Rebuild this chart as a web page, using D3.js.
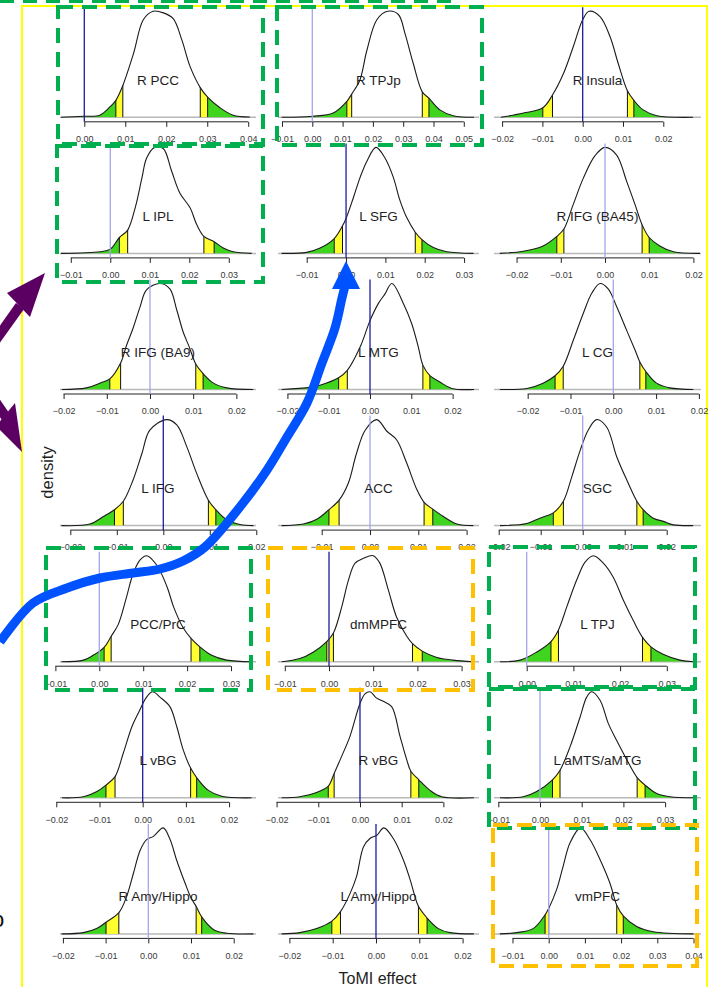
<!DOCTYPE html>
<html>
<head>
<meta charset="utf-8">
<script src="https://cdn.jsdelivr.net/npm/d3@7"></script>
<style>
  body { margin: 0; background: #fff; }
  svg { display: block; font-family: "Liberation Sans", Arial, sans-serif; }
</style>
</head>
<body>
<script>
// ---- data ----
var regions = ["R PCC", "R TPJp", "R Insula",
               "L IPL", "L SFG", "R IFG (BA45)",
               "R IFG (BA9)", "L MTG", "L CG",
               "L IFG", "ACC", "SGC",
               "PCC/PrC", "dmMPFC", "L TPJ",
               "L vBG", "R vBG", "L aMTS/aMTG",
               "R Amy/Hippo", "L Amy/Hippo", "vmPFC"];

// x limits of each panel (ToMI effect units)
var xLimits = [
    [-0.00593, 0.0419], [-0.01132, 0.05502], [-0.02201, 0.02936],
    [-0.01273, 0.03689], [-0.0173, 0.0338], [-0.02511, 0.02172],
    [-0.02083, 0.02454], [-0.02228, 0.02639], [-0.02787, 0.02049],
    [-0.02222, 0.01994], [-0.01905, 0.02257], [-0.02112, 0.02817],
    [-0.00895, 0.03569], [-0.01154, 0.03394], [-0.007, 0.03732],
    [-0.01914, 0.02623], [-0.01966, 0.02854], [-0.01103, 0.03861],
    [-0.02068, 0.02522], [-0.02263, 0.02379], [-0.01511, 0.04207]
];

var tickValues = [
    [0, 0.01, 0.02, 0.03, 0.04], [-0.01, 0, 0.01, 0.02, 0.03, 0.04, 0.05], [-0.02, -0.01, 0, 0.01, 0.02],
    [-0.01, 0, 0.01, 0.02, 0.03], [-0.01, 0, 0.01, 0.02, 0.03], [-0.02, -0.01, 0, 0.01, 0.02],
    [-0.02, -0.01, 0, 0.01, 0.02], [-0.02, -0.01, 0, 0.01, 0.02], [-0.02, -0.01, 0, 0.01, 0.02],
    [-0.02, -0.01, 0, 0.01, 0.02], [-0.01, 0, 0.01, 0.02], [-0.02, -0.01, 0, 0.01, 0.02],
    [-0.01, 0, 0.01, 0.02, 0.03], [-0.01, 0, 0.01, 0.02, 0.03], [0, 0.01, 0.02, 0.03],
    [-0.02, -0.01, 0, 0.01, 0.02], [-0.02, -0.01, 0, 0.01, 0.02], [-0.01, 0, 0.01, 0.02, 0.03],
    [-0.02, -0.01, 0, 0.01, 0.02], [-0.02, -0.01, 0, 0.01, 0.02], [-0.01, 0, 0.01, 0.02, 0.03, 0.04]
];

// 2.5%, 5%, 95%, 97.5% cut points
var quantiles = [
    [0.0077, 0.0094, 0.0283, 0.0301], [0.0114, 0.013, 0.0363, 0.0385], [-0.0099, -0.0075, 0.0111, 0.0127],
    [0.0023, 0.0044, 0.0237, 0.0263], [-0.003, -0.0009, 0.0176, 0.0193], [-0.0109, -0.0093, 0.0084, 0.01],
    [-0.0093, -0.0068, 0.0106, 0.0123], [-0.0076, -0.0055, 0.0128, 0.0145], [-0.0136, -0.0117, 0.0062, 0.0076],
    [-0.0105, -0.0086, 0.0097, 0.0113], [-0.0085, -0.0064, 0.0112, 0.013], [-0.007, -0.0046, 0.0129, 0.0144],
    [0.0011, 0.0027, 0.0209, 0.0229], [-0.0005, 0.001, 0.0189, 0.0211], [0.0052, 0.0068, 0.0248, 0.0266],
    [-0.0085, -0.0064, 0.0111, 0.0125], [-0.0076, -0.0062, 0.0122, 0.0141], [0.003, 0.0048, 0.0233, 0.0252],
    [-0.0099, -0.0069, 0.0112, 0.0125], [-0.0102, -0.0082, 0.0098, 0.0118], [-0.001, 0.0, 0.0188, 0.0206]
];

// zero reference drawn dark (1) or pale (0)
var zeroDark = [1, 0, 1,
                0, 1, 0,
                0, 1, 0,
                1, 0, 0,
                0, 1, 0,
                1, 1, 0,
                0, 1, 0];

// density curves: [effect, density relative to the panel's peak]
var densities = [
    [[-0.0057,0],[-0.0002,0.01],[0.0038,0.02],[0.0063,0.1],[0.0077,0.16],[0.0094,0.30],[0.012,0.6],[0.0144,0.92],[0.0168,1.0],[0.0193,0.985],[0.0217,0.93],[0.0238,0.73],[0.0258,0.48],[0.0283,0.28],[0.0301,0.19],[0.0331,0.09],[0.0363,0.02],[0.0404,0.003]],
    [[-0.0101,0],[0.0,0.01],[0.0069,0.04],[0.0114,0.15],[0.013,0.22],[0.0157,0.35],[0.018,0.63],[0.0213,0.92],[0.0248,1.0],[0.0284,0.97],[0.0306,0.79],[0.0333,0.51],[0.0363,0.24],[0.0385,0.18],[0.0421,0.07],[0.0465,0.015],[0.0534,0]],
    [[-0.0203,0],[-0.0147,0.04],[-0.0099,0.09],[-0.0075,0.21],[-0.0048,0.41],[-0.0023,0.67],[0.0,0.92],[0.0016,1.0],[0.0043,0.95],[0.0068,0.76],[0.0088,0.51],[0.0111,0.25],[0.0127,0.16],[0.015,0.07],[0.0184,0.015],[0.0274,0]],
    [[-0.0125,0],[-0.0026,0.015],[0.0,0.04],[0.0023,0.15],[0.0044,0.22],[0.0063,0.43],[0.008,0.71],[0.0092,0.90],[0.0112,1.0],[0.0134,0.99],[0.0155,0.78],[0.0176,0.57],[0.0202,0.43],[0.0219,0.27],[0.0237,0.16],[0.0263,0.11],[0.0286,0.05],[0.0311,0.015],[0.0358,0]],
    [[-0.0164,0],[-0.01,0.01],[-0.0066,0.05],[-0.003,0.14],[-0.0009,0.26],[0.0,0.33],[0.0019,0.53],[0.0036,0.72],[0.0053,0.87],[0.0076,1.0],[0.0099,0.90],[0.012,0.72],[0.0137,0.50],[0.0154,0.34],[0.0176,0.20],[0.0193,0.13],[0.0222,0.055],[0.0256,0.015],[0.0324,0]],
    [[-0.0238,0],[-0.0185,0.02],[-0.014,0.07],[-0.0109,0.16],[-0.0093,0.23],[-0.0072,0.46],[-0.0049,0.71],[-0.0023,0.92],[0.0,1.0],[0.0026,0.93],[0.0049,0.68],[0.0068,0.46],[0.0084,0.27],[0.01,0.15],[0.0124,0.07],[0.0155,0.015],[0.0215,0]],
    [[-0.0204,0],[-0.0147,0.015],[-0.0116,0.06],[-0.0093,0.10],[-0.0068,0.25],[-0.0054,0.42],[-0.0039,0.58],[-0.0023,0.78],[-0.0008,0.94],[0.0023,1.0],[0.0046,0.95],[0.0062,0.75],[0.0077,0.54],[0.0091,0.40],[0.0106,0.24],[0.0123,0.15],[0.0147,0.06],[0.0178,0.015],[0.0239,0]],
    [[-0.0214,0],[-0.0145,0.02],[-0.0121,0.04],[-0.0076,0.11],[-0.0055,0.18],[-0.0024,0.40],[0.0,0.65],[0.002,0.81],[0.0036,0.90],[0.0053,1.0],[0.0081,0.81],[0.0101,0.62],[0.0117,0.40],[0.0128,0.23],[0.0145,0.13],[0.0169,0.07],[0.0198,0.01],[0.0252,0]],
    [[-0.0265,0],[-0.0202,0.01],[-0.0164,0.06],[-0.0136,0.13],[-0.0117,0.22],[-0.0093,0.47],[-0.007,0.72],[-0.005,0.91],[-0.0031,1.0],[-0.0012,0.95],[0.0008,0.78],[0.0031,0.56],[0.0051,0.37],[0.0062,0.26],[0.0076,0.17],[0.0101,0.06],[0.0132,0.015],[0.0187,0]],
    [[-0.0219,0],[-0.0158,0.015],[-0.0129,0.085],[-0.0105,0.15],[-0.0086,0.23],[-0.0065,0.43],[-0.0046,0.68],[-0.0029,0.90],[0.0007,1.0],[0.0029,0.95],[0.005,0.75],[0.0072,0.49],[0.0097,0.24],[0.0113,0.15],[0.0136,0.055],[0.0165,0.01],[0.0194,0]],
    [[-0.0183,0],[-0.0138,0.015],[-0.011,0.06],[-0.0085,0.15],[-0.0064,0.24],[-0.0045,0.40],[-0.0028,0.68],[-0.001,0.90],[0.0014,1.0],[0.0035,0.89],[0.0055,0.81],[0.0076,0.59],[0.0097,0.34],[0.0112,0.22],[0.013,0.155],[0.0152,0.085],[0.018,0.015],[0.0214,0]],
    [[-0.0197,0],[-0.0133,0.02],[-0.0102,0.07],[-0.007,0.12],[-0.0046,0.23],[-0.0026,0.46],[-0.0006,0.71],[0.0013,0.90],[0.0033,1.0],[0.0057,0.93],[0.0081,0.65],[0.0105,0.43],[0.0129,0.23],[0.0144,0.15],[0.0168,0.07],[0.0192,0.04],[0.0216,0.007],[0.0263,0]],
    [[-0.0086,0],[-0.0036,0.015],[-0.0014,0.06],[0.0011,0.135],[0.0027,0.24],[0.0043,0.35],[0.0062,0.61],[0.0077,0.83],[0.0093,0.96],[0.0108,1.0],[0.0131,0.91],[0.0154,0.71],[0.0169,0.52],[0.0191,0.32],[0.0209,0.22],[0.0229,0.14],[0.0256,0.06],[0.029,0.015],[0.0347,0]],
    [[-0.0107,0],[-0.0066,0.03],[-0.0036,0.09],[-0.0005,0.19],[0.001,0.27],[0.0029,0.52],[0.0044,0.77],[0.0059,0.93],[0.0078,0.975],[0.01,1.0],[0.0115,0.93],[0.0134,0.68],[0.0153,0.42],[0.0176,0.24],[0.0189,0.17],[0.0211,0.10],[0.0244,0.04],[0.0281,0.015],[0.0326,0]],
    [[-0.0057,0],[-0.0014,0.015],[0.0021,0.09],[0.0052,0.19],[0.0068,0.30],[0.0086,0.52],[0.0107,0.77],[0.0125,0.94],[0.0143,1.0],[0.0164,0.93],[0.0185,0.80],[0.0207,0.58],[0.0228,0.39],[0.0248,0.23],[0.0266,0.14],[0.0292,0.07],[0.0328,0.015],[0.0357,0]],
    [[-0.0187,0],[-0.0137,0.01],[-0.0106,0.06],[-0.0085,0.12],[-0.0064,0.20],[-0.0045,0.42],[-0.0025,0.67],[-0.001,0.80],[0.0009,0.95],[0.0023,1.0],[0.004,0.95],[0.0063,0.86],[0.0079,0.67],[0.0094,0.45],[0.0111,0.28],[0.0125,0.19],[0.0152,0.07],[0.0183,0.015],[0.0252,0]],
    [[-0.0188,0],[-0.0144,0.01],[-0.0104,0.05],[-0.0076,0.11],[-0.0062,0.23],[-0.0043,0.40],[-0.0024,0.58],[0.0,0.89],[0.0012,0.98],[0.0024,1.0],[0.004,0.94],[0.0056,0.91],[0.0076,0.86],[0.0096,0.58],[0.0112,0.36],[0.0122,0.25],[0.0141,0.17],[0.0168,0.07],[0.0196,0.01],[0.0273,0]],
    [[-0.0096,0],[-0.004,0.01],[-0.0008,0.06],[0.003,0.17],[0.0048,0.26],[0.0072,0.48],[0.0096,0.76],[0.0112,0.95],[0.0124,1.0],[0.0144,0.92],[0.0164,0.70],[0.0184,0.54],[0.0208,0.36],[0.0233,0.19],[0.0252,0.12],[0.028,0.04],[0.0312,0.01],[0.0368,0]],
    [[-0.0203,0],[-0.0152,0.012],[-0.0121,0.05],[-0.0099,0.11],[-0.0069,0.20],[-0.0051,0.35],[-0.0035,0.57],[-0.0019,0.79],[-0.0004,0.89],[0.0012,0.92],[0.0035,1.0],[0.0051,0.89],[0.0066,0.70],[0.0086,0.48],[0.01,0.34],[0.0112,0.26],[0.0125,0.16],[0.0153,0.04],[0.0184,0.006],[0.0246,0]],
    [[-0.0218,0],[-0.0176,0.012],[-0.0137,0.05],[-0.0102,0.12],[-0.0082,0.21],[-0.006,0.38],[-0.0045,0.54],[-0.0029,0.82],[-0.0014,0.90],[0.0002,0.93],[0.0018,1.0],[0.004,0.90],[0.0063,0.70],[0.0079,0.51],[0.0088,0.38],[0.0098,0.26],[0.0118,0.15],[0.0144,0.05],[0.0171,0.012],[0.0226,0]],
    [[-0.0135,0],[-0.0088,0.012],[-0.0043,0.05],[-0.001,0.18],[0.0,0.24],[0.0022,0.42],[0.004,0.64],[0.0059,0.86],[0.0088,1.0],[0.0114,0.89],[0.0142,0.70],[0.0169,0.48],[0.0188,0.27],[0.0206,0.17],[0.0243,0.07],[0.0289,0.02],[0.04,0]]
];

// ---- layout ----
var W = 713, H = 987;
var colRange = [[60, 256], [278, 479], [494, 701]];
var firstBase = 117.3, rowStep = 136.1, peakH = 106;
var GREEN = "#3fd41d", YELLOW = "#ffff30";

var svg = d3.select("body").append("svg")
    .attr("width", W)
    .attr("height", H);
svg.append("rect").attr("width", W).attr("height", H).attr("fill", "#fff");
var defs = svg.append("defs");

// yellow frame
svg.append("rect")
    .attr("x", 22).attr("y", 6)
    .attr("width", 685).attr("height", 1000)
    .attr("fill", "none")
    .attr("stroke", "#ffff00")
    .attr("stroke-width", 2);

var fmt = d3.format(".2f");

regions.forEach(function (name, i) {
    var col = i % 3, row = Math.floor(i / 3);
    var base = firstBase + row * rowStep;
    var r = colRange[col];
    var x = d3.scaleLinear().domain(xLimits[i]).range(r);
    var y = d3.scaleLinear().domain([0, 1]).range([base, base - peakH]);
    var pts = densities[i];
    var q = quantiles[i];
    var ext = d3.extent(pts, function (d) { return d[0]; });

    var g = svg.append("g").attr("class", "panel");

    // y = 0 reference
    g.append("line")
        .attr("x1", r[0]).attr("x2", r[1])
        .attr("y1", base).attr("y2", base)
        .attr("stroke", "#b8b8b8")
        .attr("stroke-width", 1.5);

    var area = d3.area()
        .x(function (d) { return x(d[0]); })
        .y0(base)
        .y1(function (d) { return y(d[1]); })
        .curve(d3.curveCatmullRom);
    var line = d3.line()
        .x(function (d) { return x(d[0]); })
        .y(function (d) { return y(d[1]); })
        .curve(d3.curveCatmullRom);

    defs.append("clipPath").attr("id", "under" + i)
        .append("path").datum(pts).attr("d", area);

    // tail areas
    var bands = [[ext[0], q[0], GREEN], [q[0], q[1], YELLOW],
                 [q[2], q[3], YELLOW], [q[3], ext[1], GREEN]];
    var tails = g.append("g").attr("clip-path", "url(#under" + i + ")");
    tails.selectAll("rect").data(bands).join("rect")
        .attr("x", function (d) { return x(d[0]); })
        .attr("width", function (d) { return x(d[1]) - x(d[0]); })
        .attr("y", base - peakH - 6)
        .attr("height", peakH + 6)
        .attr("fill", function (d) { return d[2]; });
    tails.selectAll("line").data(q).join("line")
        .attr("x1", function (d) { return x(d); })
        .attr("x2", function (d) { return x(d); })
        .attr("y1", base)
        .attr("y2", base - peakH - 6)
        .attr("stroke", "#111")
        .attr("stroke-width", 1);

    g.append("path")
        .datum(pts)
        .attr("d", line)
        .attr("fill", "none")
        .attr("stroke", "#1b1b1b")
        .attr("stroke-width", 1.1);

    // axis, R style: line from first to last tick
    var tv = tickValues[i];
    var ag = g.append("g")
        .attr("transform", "translate(0," + (base + 4.5) + ")")
        .call(d3.axisBottom(x).tickValues(tv).tickSize(5).tickPadding(9).tickFormat(fmt));
    ag.select(".domain").remove();
    ag.append("line")
        .attr("x1", x(tv[0])).attr("x2", x(tv[tv.length - 1]))
        .attr("stroke", "#222").attr("stroke-width", 1);
    ag.selectAll(".tick line").attr("stroke", "#222");
    ag.selectAll("text")
        .attr("font-size", 9)
        .attr("font-family", "Liberation Sans, Arial, sans-serif")
        .attr("fill", "#3a3a3a");

    // zero line
    g.append("line")
        .attr("x1", x(0)).attr("x2", x(0))
        .attr("y1", base - 110).attr("y2", base + 4.5)
        .attr("stroke", zeroDark[i] ? "#1c1ca0" : "#a4a4ee")
        .attr("stroke-width", 1.3);

    g.append("text")
        .attr("x", (r[0] + r[1]) / 2)
        .attr("y", base - 32.5)
        .attr("text-anchor", "middle")
        .attr("font-size", 13.5)
        .attr("fill", "#1e1e1e")
        .text(name);
});

// axis titles
svg.append("text")
    .attr("transform", "translate(52.5,472.5) rotate(-90)")
    .attr("text-anchor", "middle")
    .attr("font-size", 16.5)
    .attr("fill", "#1e1e1e")
    .text("density");
svg.append("text")
    .attr("x", 377.5).attr("y", 984)
    .attr("text-anchor", "middle")
    .attr("font-size", 16)
    .attr("fill", "#1e1e1e")
    .text("ToMI effect");
svg.append("text")
    .attr("x", -8).attr("y", 927)
    .attr("font-size", 22)
    .attr("fill", "#111")
    .text("o");

// ---- overlay annotations ----
function dashedBox(x0, y0, x1, y1, color) {
    svg.append("rect")
        .attr("x", x0).attr("y", y0)
        .attr("width", x1 - x0).attr("height", y1 - y0)
        .attr("fill", "none")
        .attr("stroke", color)
        .attr("stroke-width", 4)
        .attr("stroke-dasharray", "15,9");
}
var BOX_GREEN = "#00b04f", BOX_ORANGE = "#ffc000";

svg.append("line")
    .attr("x1", 0).attr("x2", 460).attr("y1", 0.5).attr("y2", 0.5)
    .attr("stroke", BOX_GREEN).attr("stroke-width", 5)
    .attr("stroke-dasharray", "14,9");

dashedBox(58, 7, 263, 144, BOX_GREEN);
dashedBox(277, 7, 482, 145, BOX_GREEN);
dashedBox(57, 146, 263, 282, BOX_GREEN);
dashedBox(46, 548, 251, 690, BOX_GREEN);
dashedBox(268, 548, 473, 690, BOX_ORANGE);
dashedBox(489, 547, 695, 687, BOX_GREEN);
dashedBox(489, 689, 695, 828, BOX_GREEN);
dashedBox(493, 825, 697, 966, BOX_ORANGE);

// blue arrow
var bluePath = [[0, 642], [33, 603], [67, 588], [100, 578], [133, 573], [160, 569],
                [183, 561], [205, 547], [243, 503], [267, 470], [287, 437],
                [307, 403], [322, 363], [335, 328], [342, 298], [345, 286]];
svg.append("path")
    .datum(bluePath)
    .attr("d", d3.line().curve(d3.curveCatmullRom))
    .attr("fill", "none")
    .attr("stroke", "#0052ff")
    .attr("stroke-width", 9);
svg.append("polygon")
    .attr("points", "346,261 332,289 360,289")
    .attr("fill", "#0052ff");

// purple arrows
var PURPLE = "#5b0062";
svg.append("line")
    .attr("x1", -20).attr("y1", 362).attr("x2", 20).attr("y2", 306)
    .attr("stroke", PURPLE).attr("stroke-width", 10);
svg.append("polygon")
    .attr("points", "45,273 7,293 30,317")
    .attr("fill", PURPLE);
svg.append("line")
    .attr("x1", -20).attr("y1", 380).attr("x2", 8).attr("y2", 420)
    .attr("stroke", PURPLE).attr("stroke-width", 10);
svg.append("polygon")
    .attr("points", "22,452 -4,426 15,403")
    .attr("fill", PURPLE);
</script>
</body>
</html>
